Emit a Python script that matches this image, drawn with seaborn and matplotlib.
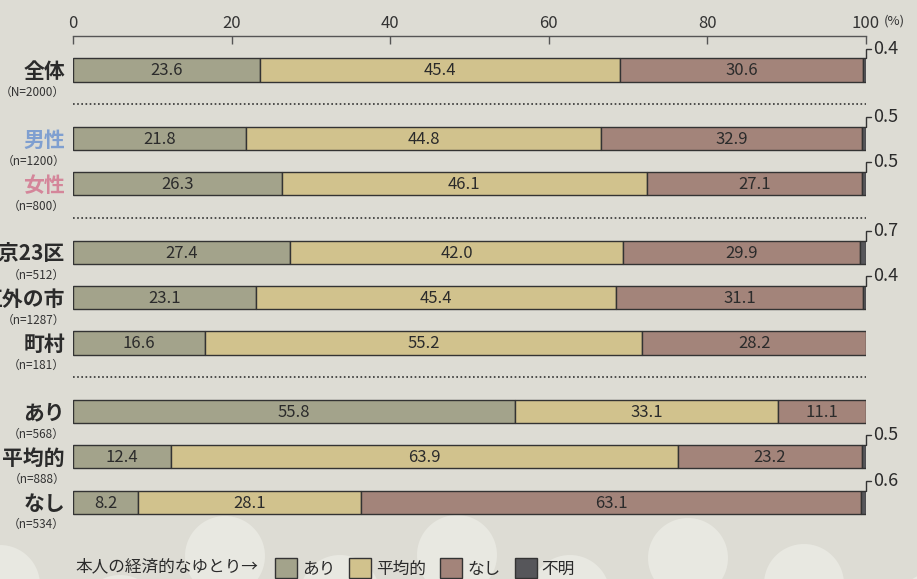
import matplotlib
matplotlib.use("Agg")
import matplotlib.pyplot as plt
from matplotlib.patches import Circle
import numpy as np
import pandas as pd
import seaborn as sns

# ---- data -------------------------------------------------------------
categories = ["全体", "男性", "女性", "東京23区", "区外の市", "町村", "あり", "平均的", "なし"]
sample_sizes = ["（N=2000）", "（n=1200）", "（n=800）", "（n=512）", "（n=1287）",
                "（n=181）", "（n=568）", "（n=888）", "（n=534）"]
group_sizes = [1, 2, 3, 3]

segments = ["あり", "平均的", "なし", "不明"]
aru = [23.6, 21.8, 26.3, 27.4, 23.1, 16.6, 55.8, 12.4, 8.2]
heikin = [45.4, 44.8, 46.1, 42.0, 45.4, 55.2, 33.1, 63.9, 28.1]
nashi = [30.6, 32.9, 27.1, 29.9, 31.1, 28.2, 11.1, 23.2, 63.1]
fumei = [0.4, 0.5, 0.5, 0.7, 0.4, 0.0, 0.0, 0.5, 0.6]

ticks = [0, 20, 40, 60, 80, 100]

seg_colors = ["#a3a38b", "#d1c28d", "#a3847a", "#56565a"]
label_colors = {"男性": "#7f9fd0", "女性": "#d4869a"}
bg = "#dddcd4"
ink = "#2b2b2b"

# ---- layout helpers ---------------------------------------------------
gap = 1.52
pos = []
y = 0.0
for g in group_sizes:
    for _ in range(g):
        pos.append(y)
        y += 1
    y += gap - 1
pos = np.array(pos)
group_ends = np.cumsum(group_sizes)[:-1]
separators = [(pos[i - 1] + pos[i]) / 2 for i in group_ends]

rows = []
values = [aru, heikin, nashi, fumei]
for i, cat in enumerate(categories):
    left = 0.0
    for s, seg in enumerate(segments):
        v = values[s][i]
        rows.append(dict(category=cat, pos=pos[i], segment=seg, value=v, left=left))
        left += v
df = pd.DataFrame(rows)

# ---- figure -----------------------------------------------------------
sns.set_style("white")
plt.rcParams["font.family"] = ["Noto Sans CJK JP", "DejaVu Sans"]

W, H = 917, 579
fig = plt.figure(figsize=(W / 100, H / 100), dpi=100, facecolor=bg)
ax = fig.add_axes([73 / W, 1 - 530 / H, (866 - 73) / W, (530 - 36) / H])
ax.set_facecolor("none")

# decorative pale circles in the background
for cx, cy in [(0, 585), (120, 615), (225, 556), (340, 595), (457, 555),
               (570, 595), (688, 558), (804, 584), (935, 612)]:
    fig.patches.append(Circle((cx / 100, (H - cy) / 100), 0.40,
                              transform=fig.dpi_scale_trans,
                              facecolor="#e8e8e1", edgecolor="none", zorder=-5))

bar_h = 0.51
for seg, col in zip(segments, seg_colors):
    sub = df[(df.segment == seg) & (df.value > 0)].sort_values("pos")
    sns.barplot(data=sub, x="value", y="pos", orient="y", native_scale=True,
                left=sub["left"].values, width=bar_h, color=col, saturation=1,
                edgecolor="#333333", linewidth=1.0, errorbar=None, label=seg, ax=ax)

# value labels
for _, r in df.iterrows():
    if r.segment != "不明":
        ax.text(r.left + r.value / 2, r.pos + 0.02, f"{r.value:.1f}", ha="center",
                va="center", fontsize=12, color=ink)
    elif r.value > 0:
        top = r.pos - bar_h / 2
        ax.plot([100, 100, 100.65], [top, top - 0.22, top - 0.22], color="#333333",
                lw=1.0, clip_on=False, solid_joinstyle="miter")
        ax.text(100.85, top - 0.22, f"{r.value:.1f}", ha="left", va="center",
                fontsize=13, color=ink, clip_on=False)

# category labels (the longest ones run off the left edge, as in the source)
for i, cat in enumerate(categories):
    ax.text(-1.0, pos[i] + 0.03, cat, ha="right", va="center", fontsize=15,
            fontweight="bold", color=label_colors.get(cat, ink), clip_on=False)
    ax.text(-1.0, pos[i] + 0.5, sample_sizes[i], ha="right", va="center",
            fontsize=8.5, color="#333333", clip_on=False)

for s in separators:
    ax.axhline(s, color="#333333", lw=1.2, linestyle=(0, (1, 1.5)))

ax.set_xlim(0, 100)
ax.set_ylim((530 - 70) / 45.2, (36 - 70) / 45.2)
ax.xaxis.tick_top()
ax.set_xticks(ticks)
ax.set_xticklabels([str(t) for t in ticks])
ax.tick_params(axis="x", direction="in", length=6, width=1, color="#555555",
               pad=3, labelsize=12, labelcolor="#333333")
ax.set_yticks([])
ax.set_xlabel("")
ax.set_ylabel("")
for side in ["left", "right", "bottom"]:
    ax.spines[side].set_visible(False)
ax.spines["top"].set_color("#555555")
ax.spines["top"].set_linewidth(1)
ax.text(102.2, (21 - 70) / 45.2, "(%)", fontsize=9.5, color="#333333",
        ha="left", va="center", clip_on=False)

# legend
leg = ax.get_legend()
if leg is not None:
    leg.remove()
handles, labels = ax.get_legend_handles_labels()
fig.legend(handles, labels, loc="center left", bbox_to_anchor=(268 / W, 1 - 568 / H),
           ncol=4, frameon=False, fontsize=12, handlelength=1.32, handleheight=1.45,
           handletextpad=0.3, columnspacing=0.85, borderaxespad=0, labelcolor=ink)
fig.text(75 / W, 1 - 567 / H, "本人の経済的なゆとり→", fontsize=12, color=ink,
         ha="left", va="center")

fig.savefig("out.png", dpi=100, facecolor=bg)
